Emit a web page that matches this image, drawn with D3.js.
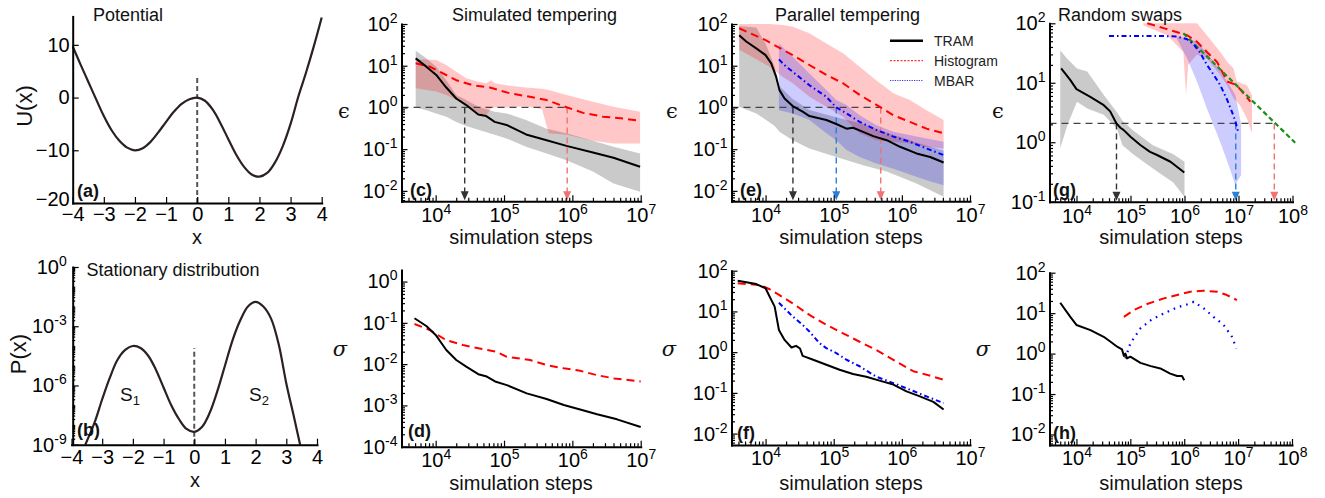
<!DOCTYPE html>
<html><head><meta charset="utf-8">
<script src="https://cdn.jsdelivr.net/npm/d3@7"></script>
<style>body{margin:0;background:#fff}svg{display:block}</style>
</head><body>
<script>
// ---------------- DATA ----------------
// (a) potential
const potX = [-4,-3.75,-3.5,-3.25,-3,-2.75,-2.5,-2.25,-2,-1.75,-1.5,-1.25,-1,-0.75,-0.5,-0.25,0,0.25,0.5,0.75,1,1.25,1.5,1.75,2,2.25,2.5,2.75,3,3.25,3.5,3.75,4];
const potU = [9.7,6.3,3.0,-0.3,-3.5,-6.2,-8.2,-9.5,-10,-9.6,-8.4,-6.6,-4.6,-2.7,-1.2,-0.3,0,-0.6,-2.3,-4.9,-7.9,-10.8,-13.1,-14.6,-15,-14.3,-12.3,-9.2,-5.0,0.2,4.8,9.8,15.2];
const potBarrierTop = 3.7;
// (b) stationary distribution
const statX = [-3.55,-3.25,-3,-2.75,-2.5,-2.25,-2,-1.75,-1.5,-1.25,-1,-0.75,-0.5,-0.25,0,0.25,0.5,0.75,1,1.25,1.5,1.75,2,2.25,2.5,2.75,3,3.25,3.45];
const statP = [1.0e-9,1.3e-8,2.0e-7,2.5e-6,2.0e-5,6.3e-5,1.0e-4,7.9e-5,3.2e-5,6.3e-6,7.9e-7,1.0e-7,2.0e-8,6.3e-9,4.5e-9,7.9e-9,4.0e-8,5.0e-7,1.0e-5,2.0e-4,2.0e-3,1.0e-2,1.7e-2,1.0e-2,2.5e-3,1.26e-4,1.26e-6,2.5e-8,1.0e-9];
const statBarrierTop = 8e-5;

// (c) simulated tempering, error
const stTramSteps = [5.1e3,7.3e3,1.02e4,1.43e4,2.0e4,2.8e4,4.2e4,5.5e4,7.3e4,1.09e5,2.1e5,4.2e5,8.2e5,2.0e6,4.0e6,9.8e6];
const stTram = [15,9.5,6.0,3.0,1.64,1.14,0.68,0.62,0.45,0.38,0.225,0.164,0.12,0.083,0.062,0.038];
const stTramBandSteps = [5.1e3,7.3e3,1.02e4,1.43e4,2.0e4,2.8e4,4.2e4,7.3e4,1.09e5,2.1e5,4.2e5,8.2e5,2.0e6,4.0e6,9.8e6];
const stTramLo = [1.0,0.86,0.72,0.6,0.45,0.36,0.29,0.22,0.18,0.114,0.079,0.054,0.029,0.015,0.0095];
const stTramHi = [23,15,9.5,4.5,2.0,1.5,1.04,0.79,0.72,0.5,0.31,0.24,0.16,0.114,0.079];
const stHistSteps = [5.1e3,8.2e3,1.15e4,2.0e4,3.5e4,6.2e4,1.2e5,2.4e5,4.2e5,8.4e5,1.44e6,2.8e6,5.6e6,9.8e6];
const stHist = [11.4,9.5,7.2,4.5,3.4,3.0,2.2,1.8,1.5,1.0,0.74,0.6,0.54,0.48];
const stHistBandSteps = [5.1e3,7.3e3,1.02e4,1.43e4,2.0e4,2.8e4,4.2e4,5.5e4,6.5e4,7.3e4,1.09e5,2.1e5,3.6e5,4.5e5,8.2e5,2.0e6,4.0e6,9.8e6];
const stHistLo = [2.9,2.6,2.4,2.0,1.5,1.14,0.72,0.66,0.95,1.0,1.0,1.07,0.9,0.24,0.22,0.16,0.137,0.137];
const stHistHi = [14.2,14,13.7,10.4,7.2,5.0,4.1,3.8,4.5,3.8,3.4,3.0,2.8,2.6,2.0,1.37,1.04,0.79];
const stThreshold = 1.0;
const stArrowSteps = [2.66e4, 8.4e5]; // TRAM, Histogram

// (d) simulated tempering, sigma
const stSigTramSteps = [4.9e3,7.3e3,1.0e4,1.43e4,2.0e4,2.8e4,4.2e4,5.6e4,7.4e4,1.1e5,2.15e5,4.2e5,7.5e5,1.3e6,2.3e6,4.5e6,1.0e7];
const stSigTram = [0.129,0.084,0.051,0.022,0.0126,0.0087,0.0057,0.005,0.0038,0.0031,0.00196,0.00143,0.00102,0.0008,0.00061,0.00046,0.0003];
const stSigHistSteps = [4.9e3,8.2e3,1.43e4,2.5e4,4.4e4,7.8e4,1.1e5,2.4e5,4.2e5,7.5e5,1.3e6,2.3e6,4.1e6,1.0e7];
const stSigHist = [0.094,0.067,0.038,0.029,0.024,0.02,0.015,0.0126,0.0095,0.0079,0.0069,0.0054,0.0045,0.0038];

// (e) parallel tempering, error
const ptTramSteps = [4.1e3,5.2e3,7.3e3,1.0e4,1.21e4,1.43e4,1.6e4,1.9e4,2.5e4,3.5e4,4.4e4,7.8e4,1.09e5,1.54e5,1.92e5,2.7e5,3.8e5,6.0e5,9.4e5,1.64e6,2.6e6,4.1e6];
const ptTram = [54,38,26,18,11.4,5.4,2.6,1.64,1.08,0.79,0.62,0.50,0.40,0.31,0.325,0.26,0.205,0.164,0.114,0.079,0.065,0.048];
const ptTramBandSteps = [4.1e3,7.3e3,1.02e4,1.36e4,1.6e4,2.5e4,4.4e4,1.09e5,2.7e5,6.0e5,1.64e6,4.1e6];
const ptTramHi = [90,83,32,9.5,3.2,1.6,0.87,0.58,0.4,0.25,0.145,0.091];
const ptTramLo = [1.04,0.72,0.5,0.36,0.26,0.164,0.104,0.065,0.041,0.029,0.015,0.0072];
const ptHistSteps = [4.1e3,1.0e4,2.5e4,4.4e4,7.8e4,1.37e5,2.4e5,4.9e5,7.5e5,1.31e6,2.3e6,4.1e6];
const ptHist = [79,41,18,10.4,6.0,3.8,2.0,1.0,0.65,0.45,0.31,0.24];
const ptHistBandSteps = [4.1e3,1.15e4,1.8e4,2.5e4,4.4e4,7.8e4,1.37e5,2.4e5,4.2e5,7.5e5,1.31e6,2.3e6,4.1e6];
const ptHistHi = [100,100,95,86,60,34,20,9.5,4.5,2.2,1.5,0.86,0.5];
const ptHistLo = [24,9.5,5.4,3.8,1.8,1.04,0.6,0.24,0.164,0.15,0.137,0.114,0.104];
const ptMbarSteps = [1.57e4,2.0e4,2.5e4,4.4e4,7.8e4,1.09e5,1.54e5,2.4e5,4.2e5,7.5e5,1.31e6,2.3e6,4.1e6];
const ptMbar = [14.2,9.5,7.2,3.4,1.8,1.0,0.72,0.45,0.29,0.2,0.15,0.104,0.072];
const ptMbarBandSteps = [1.57e4,2.5e4,4.4e4,7.8e4,1.09e5,1.54e5,2.4e5,4.2e5,7.5e5,2.3e6,4.1e6];
const ptMbarHi = [34,16.4,6.5,2.6,1.5,1.14,0.65,0.38,0.26,0.18,0.15];
const ptMbarLo = [0.86,0.72,0.5,0.24,0.164,0.095,0.065,0.045,0.034,0.018,0.0137];
const ptThreshold = 1.0;
const ptArrowSteps = [2.52e4, 1.09e5, 4.9e5]; // TRAM, MBAR, Histogram

// (f) parallel tempering, sigma
const ptSigTramSteps = [3.9e3,7.3e3,1.0e4,1.15e4,1.36e4,1.57e4,1.9e4,2.4e4,2.8e4,3.2e4,3.5e4,5.0e4,7.8e4,1.22e5,1.92e5,3.0e5,4.7e5,7.5e5,1.17e6,1.84e6,2.9e6,4.1e6];
const ptSigTram = [57,47,37,23,13.1,3.5,2.0,1.3,1.43,1.23,0.81,0.65,0.49,0.37,0.29,0.25,0.2,0.16,0.109,0.082,0.06,0.039];
const ptSigHistSteps = [3.9e3,8.2e3,1.15e4,1.6e4,2.5e4,4.4e4,7.8e4,1.37e5,2.4e5,4.2e5,7.5e5,1.47e6,2.3e6,4.1e6];
const ptSigHist = [49,44.6,35,25,15.8,8.2,4.7,2.9,1.8,1.14,0.65,0.34,0.28,0.21];
const ptSigMbarSteps = [1.57e4,2.0e4,2.5e4,3.5e4,4.4e4,6.2e4,7.8e4,1.09e5,1.54e5,2.4e5,4.2e5,7.5e5,1.31e6,2.3e6,4.1e6];
const ptSigMbar = [16.4,10.9,7.5,4.7,3.2,1.66,1.25,0.95,0.65,0.45,0.25,0.174,0.12,0.082,0.056];

// (g) random swaps, error
const rsTramSteps = [5.2e3,7.7e3,1.0e4,1.8e4,3.2e4,4.2e4,5.5e4,6.5e4,7.5e4,1.0e5,1.52e5,2.3e5,3.1e5,5.5e5,9.9e5];
const rsTram = [17.5,11.1,7.8,5.8,4.2,3.3,2.07,1.75,1.6,1.24,0.9,0.69,0.61,0.47,0.31];
const rsTramBandSteps = [5.0e3,6.8e3,1.02e4,1.58e4,3.2e4,5.6e4,7.1e4,1.12e5,2.6e5,6.2e5,1.0e6];
const rsTramHi = [35,25,17.4,15.5,6.2,3.2,2.3,1.58,0.89,0.63,0.47];
const rsTramLo = [0.79,1.95,4.8,3.7,2.9,1.7,0.89,0.63,0.36,0.21,0.12];
const rsHistSteps = [2.04e5,4.1e5,1.12e6,1.7e6,2.6e6,4.0e6,6.2e6,9.3e6,1.66e7];
const rsHist = [100,83,63,49,33,22.4,10.5,9.1,4.8];
const rsHistBandSteps = [1.74e5,2.04e5,4.8e5,9.5e5,1.07e6,1.17e6,1.7e6,2.6e6,4.6e6,6.2e6,8.1e6,9.3e6,1.07e7,1.43e7,1.78e7];
const rsHistHi = [100,100,100,100,100,100,100,63,33,22.4,17.4,10.5,10,9.1,6.2];
const rsHistLo = [93,87,63,33,6.2,20,29.5,25.7,13.5,8.9,5.5,4.8,4.2,2.5,1.41];
const rsMbarSteps = [4.0e4,1.5e5,4.1e5,7.2e5,1.12e6,1.48e6,1.95e6,2.6e6,3.5e6,4.6e6,6.2e6,7.6e6,8.7e6,1.0e7];
const rsMbar = [61,61,61,60,54,44,32,20,13.5,9.1,5.1,3.2,2.3,1.41];
const rsMbarBandSteps = [7.2e5,1.12e6,1.7e6,2.6e6,4.6e6,6.9e6,8.7e6,1.12e7];
const rsMbarHi = [60,56,49,32,15.8,8.9,6.3,2.0];
const rsMbarLo = [55,25.7,10.5,3.7,1.0,0.36,0.19,0.28];
const rsGuideSteps = [9.5e5,1.12e8];
const rsGuide = [68,0.98];
const rsThreshold = 2.07;
const rsArrowSteps = [5.5e4, 8.9e6, 4.6e7]; // TRAM, MBAR, Histogram

// (h) random swaps, sigma
const rsSigTramSteps = [5.0e3,7.7e3,1.0e4,1.82e4,3.2e4,4.3e4,5.7e4,7.0e4,7.6e4,8.1e4,8.7e4,1.0e5,1.54e5,2.4e5,3.6e5,5.5e5,7.4e5,9.1e5,1.0e6];
const rsSigTram = [18.1,8.1,5.1,3.8,2.6,1.96,1.48,1.27,0.87,1.0,0.76,0.84,0.59,0.49,0.43,0.32,0.28,0.28,0.22];
const rsSigHistSteps = [7.6e4,1.16e5,2.05e5,4.2e5,7.4e5,1.3e6,2.3e6,4.1e6,6.2e6,9.5e6];
const rsSigHist = [8.1,11.9,16.8,23.2,28,33.9,35.9,33.9,28,21];
const rsSigMbarSteps = [8.1e4,1.0e5,1.54e5,2.4e5,4.2e5,7.4e5,1.3e6,1.5e6,2.3e6,3.5e6,5.4e6,7.7e6,9.3e6];
const rsSigMbar = [0.76,1.79,4.2,6.7,9.9,13.9,17.4,19.1,13.1,8.1,5.1,2.6,1.34];

const legendLabels = ["TRAM","Histogram","MBAR"];

// ---------------- DRAWING ----------------
const W = 1325, H = 498;
const FONT = "'Liberation Sans', Arial, Helvetica, sans-serif";
const svg = d3.select('body').append('svg').attr('width', W).attr('height', H)
  .style('font-family', FONT);
const defs = svg.append('defs');
let clipN = 0;
function makeClip(l, t, w, h) {
  const id = 'clip' + (clipN++);
  defs.append('clipPath').attr('id', id).append('rect').attr('x', l).attr('y', t).attr('width', w).attr('height', h);
  return 'url(#' + id + ')';
}
const RED = '#ff0000', BLUE = '#0000ff', BLACK = '#000';
const STY = {
  tram: {color: BLACK, dash: null, w: 2},
  hist: {color: RED, dash: '8,5', w: 2},
  mbar: {color: BLUE, dash: '5,3,1.5,3', w: 2},
  mbarDot: {color: BLUE, dash: '1.6,5', w: 2.2},
  guide: {color: '#1a8f1a', dash: '5,3', w: 2.2}
};
const ARROW = {tram: '#333', mbar: '#2a7fd4', hist: '#f07272'};

function supText(t, base, exp, size, rise) {
  t.text(null);
  t.append('tspan').text(base);
  t.append('tspan').attr('font-size', size).attr('dy', -rise).text(exp);
}
function logMinor(dom, majors) {
  const out = [];
  const a = Math.floor(Math.log10(dom[0])), b = Math.ceil(Math.log10(dom[1]));
  for (let e = a; e <= b; e++) for (let k = 1; k <= 9; k++) {
    const v = k * Math.pow(10, e);
    if (v >= dom[0] * 0.999 && v <= dom[1] * 1.001 && !majors.some(m => Math.abs(m - v) / m < 1e-6)) out.push(v);
  }
  return out;
}
function styleAxis(sel) {
  sel.selectAll('.tick line').attr('stroke', '#000').attr('stroke-width', 1.2);
  sel.select('.domain').attr('stroke', '#000').attr('stroke-width', 2).attr('stroke-linecap', 'square');
  sel.selectAll('.tick text').attr('fill', '#000');
  sel.attr('font-size', 20).attr('font-family', FONT);
}
function zip(steps, vals) { return steps.map((s, i) => ({s, v: vals[i]})); }
function zipBand(steps, lo, hi) { return steps.map((s, i) => ({s, lo: lo[i], hi: hi[i]})); }

function text(x, y, str, opts = {}) {
  const t = svg.append('text').attr('x', x).attr('y', y).text(str)
    .attr('font-size', opts.size || 18).attr('fill', opts.fill || '#111');
  if (opts.anchor) t.attr('text-anchor', opts.anchor);
  if (opts.weight) t.attr('font-weight', opts.weight);
  if (opts.family) t.attr('font-family', opts.family);
  if (opts.italic) t.attr('font-style', 'italic');
  if (opts.rotate) t.attr('transform', `rotate(-90,${x},${y})`);
  return t;
}

function logPanel(c) {
  const g = svg.append('g');
  const x = d3.scaleLog().domain(c.xDom).range([c.left, c.right]);
  const y = d3.scaleLog().domain(c.yDom).range([c.bottom, c.top]);
  const plot = g.append('g').attr('clip-path', makeClip(c.left, c.top - 2, c.right - c.left + 6, c.bottom - c.top + 2));
  (c.bands || []).forEach(b => {
    plot.append('path').datum(zipBand(b.steps, b.lo, b.hi))
      .attr('d', d3.area().x(d => x(d.s)).y0(d => y(d.lo)).y1(d => y(d.hi)))
      .attr('fill', b.color).attr('fill-opacity', b.op);
  });
  if (c.thr) {
    const xs = c.arrows.map(a => a.s);
    plot.append('line').attr('x1', c.left).attr('x2', x(d3.max(xs))).attr('y1', y(c.thr)).attr('y2', y(c.thr))
      .attr('stroke', '#444').attr('stroke-width', 1.3).attr('stroke-dasharray', '7,5');
    c.arrows.forEach(a => {
      const px = x(a.s), py0 = y(c.thr), py1 = c.bottom;
      plot.append('line').attr('x1', px).attr('x2', px).attr('y1', py0).attr('y2', py1 - 8)
        .attr('stroke', a.color).attr('stroke-width', 1.4).attr('stroke-dasharray', '6,4');
      plot.append('path').attr('d', `M${px - 4},${py1 - 10}L${px + 4},${py1 - 10}L${px},${py1 - 1}Z`).attr('fill', a.color);
    });
  }
  (c.lines || []).forEach(l => {
    const st = STY[l.style];
    plot.append('path').datum(zip(l.steps, l.vals))
      .attr('d', d3.line().x(d => x(d.s)).y(d => y(d.v)))
      .attr('fill', 'none').attr('stroke', st.color).attr('stroke-width', st.w)
      .attr('stroke-dasharray', st.dash).attr('stroke-linejoin', 'round');
  });
  // axes
  g.append('g').attr('transform', `translate(0,${c.bottom})`)
    .call(d3.axisBottom(x).tickValues(logMinor(c.xDom, c.xMajor)).tickSize(-3.5).tickFormat(''))
    .call(s => s.select('.domain').remove()).call(styleAxis);
  const xa = g.append('g').attr('transform', `translate(0,${c.bottom})`)
    .call(d3.axisBottom(x).tickValues(c.xMajor).tickSize(-6).tickSizeOuter(0).tickPadding(c.xPad))
    .call(styleAxis);
  xa.selectAll('.tick text').each(function (d) { supText(d3.select(this), '10', String(Math.round(Math.log10(d))), 14, 8); });
  g.append('g').attr('transform', `translate(${c.left},0)`)
    .call(d3.axisLeft(y).tickValues(logMinor(c.yDom, c.yMajor)).tickSize(-3.5).tickFormat(''))
    .call(s => s.select('.domain').remove()).call(styleAxis);
  const ya = g.append('g').attr('transform', `translate(${c.left},0)`)
    .call(d3.axisLeft(y).tickValues(c.yMajor).tickSize(-6).tickSizeOuter(0).tickPadding(4))
    .call(styleAxis);
  ya.selectAll('.tick text').each(function (d) { supText(d3.select(this), '10', String(Math.round(Math.log10(d))), 14, 8); });
  return {x, y};
}

// ---- (a) Potential ----
{
  const x = d3.scaleLinear().domain([-4, 4]).range([72.7, 321.7]);
  const y = d3.scaleLinear().domain([-20, 15.4]).range([203, 16.4]);
  const g = svg.append('g');
  const plot = g.append('g').attr('clip-path', makeClip(72, 10, 252, 194));
  plot.append('line').attr('x1', x(0)).attr('x2', x(0)).attr('y1', y(-20)).attr('y2', y(potBarrierTop))
    .attr('stroke', '#555').attr('stroke-width', 2).attr('stroke-dasharray', '5,3');
  plot.append('path').datum(potX.map((v, i) => [v, potU[i]]))
    .attr('d', d3.line().x(d => x(d[0])).y(d => y(d[1])).curve(d3.curveCatmullRom))
    .attr('fill', 'none').attr('stroke', '#2b2024').attr('stroke-width', 2.2);
  g.append('g').attr('transform', 'translate(0,203)')
    .call(d3.axisBottom(x).tickValues(d3.range(-4, 5)).tickSize(-6).tickSizeOuter(0).tickPadding(4)).call(styleAxis);
  const ya = g.append('g').attr('transform', 'translate(72.7,0)')
    .call(d3.axisLeft(y).tickValues([-20, -10, 0, 10]).tickSize(-6).tickSizeOuter(0).tickPadding(3)).call(styleAxis);
  ya.selectAll('.tick text').filter(d => d === -20).attr('dy', '0.1em');
  text(93, 21, 'Potential', {size: 18});
  text(77, 197, '(a)', {size: 18, weight: 'bold'});
  text(197, 244, 'x', {size: 20, anchor: 'middle'});
  text(32, 106, 'U(x)', {size: 22, anchor: 'middle', rotate: true});
}

// ---- (b) Stationary distribution ----
{
  const x = d3.scaleLinear().domain([-4, 4]).range([71.5, 317]);
  const y = d3.scaleLog().domain([1e-9, 1]).range([444.7, 267]);
  const g = svg.append('g');
  const plot = g.append('g').attr('clip-path', makeClip(71, 262, 250, 183));
  plot.append('line').attr('x1', x(0)).attr('x2', x(0)).attr('y1', y(1e-9)).attr('y2', y(statBarrierTop))
    .attr('stroke', '#555').attr('stroke-width', 2).attr('stroke-dasharray', '5,3');
  plot.append('path').datum(statX.map((v, i) => [v, statP[i]]))
    .attr('d', d3.line().x(d => x(d[0])).y(d => y(d[1])).curve(d3.curveCatmullRom))
    .attr('fill', 'none').attr('stroke', '#2b2024').attr('stroke-width', 2.2);
  g.append('g').attr('transform', 'translate(0,444.7)')
    .call(d3.axisBottom(x).tickValues(d3.range(-4, 5)).tickSize(-6).tickSizeOuter(0).tickPadding(5)).call(styleAxis);
  const yMaj = [1e-9, 1e-6, 1e-3, 1];
  g.append('g').attr('transform', 'translate(72.7,0)')
    .call(d3.axisLeft(y).tickValues(logMinor([1e-9, 1], yMaj)).tickSize(-2.5).tickFormat(''))
    .call(s => s.select('.domain').remove()).call(styleAxis);
  const ya = g.append('g').attr('transform', 'translate(72.7,0)')
    .call(d3.axisLeft(y).tickValues(yMaj).tickSize(-6).tickSizeOuter(0).tickPadding(6)).call(styleAxis);
  ya.selectAll('.tick text').each(function (d) { supText(d3.select(this), '10', String(Math.round(Math.log10(d))), 14, 8); });
  text(86.5, 276, 'Stationary distribution', {size: 18});
  text(77, 436, '(b)', {size: 18, weight: 'bold'});
  text(195, 487, 'x', {size: 20, anchor: 'middle'});
  text(26, 354, 'P(x)', {size: 22, anchor: 'middle', rotate: true});
  const s1 = text(120, 401, 'S', {size: 19});
  s1.append('tspan').attr('font-size', 13).attr('dy', 4).text('1');
  const s2 = text(249, 401, 'S', {size: 19});
  s2.append('tspan').attr('font-size', 13).attr('dy', 4).text('2');
}

const GRAY = {color: '#808080', op: 0.42};
const PINK = {color: '#ff0000', op: 0.22};
const LAV = {color: '#0000ff', op: 0.2};
const topRow = {top: 24, bottom: 201.3, xPad: 7};

// ---- (c) ----
logPanel(Object.assign({}, topRow, {
  left: 401.5, right: 640.7, xDom: [Math.pow(10, 3.5), 1e7], yDom: [Math.pow(10, -2.25), 100],
  xMajor: [1e4, 1e5, 1e6, 1e7], yMajor: [1e-2, 1e-1, 1, 10, 100],
  bands: [Object.assign({steps: stTramBandSteps, lo: stTramLo, hi: stTramHi}, GRAY),
          Object.assign({steps: stHistBandSteps, lo: stHistLo, hi: stHistHi}, PINK)],
  thr: stThreshold,
  arrows: [{s: stArrowSteps[0], color: ARROW.tram}, {s: stArrowSteps[1], color: ARROW.hist}],
  lines: [{steps: stHistSteps, vals: stHist, style: 'hist'}, {steps: stTramSteps, vals: stTram, style: 'tram'}]
}));
// ---- (d) ----
logPanel({
  top: 270, bottom: 446.7, xPad: 6,
  left: 401.5, right: 640.7, xDom: [Math.pow(10, 3.5), 1e7], yDom: [1e-4, Math.pow(10, 0.28)],
  xMajor: [1e4, 1e5, 1e6, 1e7], yMajor: [1e-4, 1e-3, 1e-2, 1e-1, 1],
  lines: [{steps: stSigHistSteps, vals: stSigHist, style: 'hist'}, {steps: stSigTramSteps, vals: stSigTram, style: 'tram'}]
});
// ---- (e) ----
logPanel(Object.assign({}, topRow, {
  left: 731.5, right: 970, xDom: [Math.pow(10, 3.5), 1e7], yDom: [Math.pow(10, -2.25), 100],
  xMajor: [1e4, 1e5, 1e6, 1e7], yMajor: [1e-2, 1e-1, 1, 10, 100],
  bands: [Object.assign({steps: ptTramBandSteps, lo: ptTramLo, hi: ptTramHi}, GRAY),
          Object.assign({steps: ptHistBandSteps, lo: ptHistLo, hi: ptHistHi}, PINK),
          Object.assign({steps: ptMbarBandSteps, lo: ptMbarLo, hi: ptMbarHi}, LAV)],
  thr: ptThreshold,
  arrows: [{s: ptArrowSteps[0], color: ARROW.tram}, {s: ptArrowSteps[1], color: ARROW.mbar}, {s: ptArrowSteps[2], color: ARROW.hist}],
  lines: [{steps: ptHistSteps, vals: ptHist, style: 'hist'}, {steps: ptMbarSteps, vals: ptMbar, style: 'mbar'},
          {steps: ptTramSteps, vals: ptTram, style: 'tram'}]
}));
// ---- (f) ----
logPanel({
  top: 270.7, bottom: 445, xPad: 6,
  left: 731.5, right: 970, xDom: [Math.pow(10, 3.5), 1e7], yDom: [Math.pow(10, -2.28), 100],
  xMajor: [1e4, 1e5, 1e6, 1e7], yMajor: [1e-2, 1e-1, 1, 10, 100],
  lines: [{steps: ptSigHistSteps, vals: ptSigHist, style: 'hist'}, {steps: ptSigMbarSteps, vals: ptSigMbar, style: 'mbar'},
          {steps: ptSigTramSteps, vals: ptSigTram, style: 'tram'}]
});
// ---- (g) ----
logPanel({
  top: 23.3, bottom: 201.7, xPad: 7,
  left: 1049.5, right: 1292.5, xDom: [Math.pow(10, 3.5), 1e8], yDom: [0.1, 100],
  xMajor: [1e4, 1e5, 1e6, 1e7, 1e8], yMajor: [0.1, 1, 10, 100],
  bands: [Object.assign({steps: rsTramBandSteps, lo: rsTramLo, hi: rsTramHi}, GRAY),
          Object.assign({steps: rsHistBandSteps, lo: rsHistLo, hi: rsHistHi}, PINK),
          Object.assign({steps: rsMbarBandSteps, lo: rsMbarLo, hi: rsMbarHi}, LAV)],
  thr: rsThreshold,
  arrows: [{s: rsArrowSteps[0], color: ARROW.tram}, {s: rsArrowSteps[1], color: ARROW.mbar}, {s: rsArrowSteps[2], color: ARROW.hist}],
  lines: [{steps: rsHistSteps, vals: rsHist, style: 'hist'}, {steps: rsGuideSteps, vals: rsGuide, style: 'guide'},
          {steps: rsMbarSteps, vals: rsMbar, style: 'mbar'}, {steps: rsTramSteps, vals: rsTram, style: 'tram'}]
});
// ---- (h) ----
logPanel({
  top: 272.7, bottom: 445, xPad: 6,
  left: 1049.5, right: 1292, xDom: [Math.pow(10, 3.5), 1e8], yDom: [Math.pow(10, -2.26), 100],
  xMajor: [1e4, 1e5, 1e6, 1e7, 1e8], yMajor: [1e-2, 1e-1, 1, 10, 100],
  lines: [{steps: rsSigHistSteps, vals: rsSigHist, style: 'hist'}, {steps: rsSigMbarSteps, vals: rsSigMbar, style: 'mbarDot'},
          {steps: rsSigTramSteps, vals: rsSigTram, style: 'tram'}]
});

// titles, panel labels, axis labels
text(452, 21, 'Simulated tempering', {size: 18});
text(775, 21, 'Parallel tempering', {size: 18});
text(1058, 21, 'Random swaps', {size: 18});
[['(c)', 410, 196], ['(d)', 408, 437], ['(e)', 740, 196], ['(f)', 737, 439], ['(g)', 1053, 196], ['(h)', 1053, 439]]
  .forEach(p => text(p[1], p[2], p[0], {size: 18, weight: 'bold'}));
[[521, 244], [521, 490], [851, 244], [851, 490], [1171, 244], [1171, 490]]
  .forEach(p => text(p[0], p[1], 'simulation steps', {size: 20, anchor: 'middle'}));
[[344, 118], [672, 118], [998, 118]].forEach(p => text(p[0], p[1], 'ϵ', {size: 21, anchor: 'middle', family: "'DejaVu Serif', serif"}));
[[340, 356], [669, 356], [983, 356]].forEach(p => text(p[0], p[1], 'σ', {size: 21, anchor: 'middle', family: "'DejaVu Serif', serif", italic: true}));

// legend in (e)
{
  const rows = [STY.tram, STY.hist, STY.mbar];
  const lg = svg.append('g');
  const ly = d3.scalePoint().domain(legendLabels).range([40.7, 80.5]);
  legendLabels.forEach((lab, i) => {
    const st = rows[i];
    lg.append('line').attr('x1', 890).attr('x2', 923).attr('y1', ly(lab)).attr('y2', ly(lab))
      .attr('stroke', st.color).attr('stroke-width', i === 0 ? 2.4 : 1.1)
      .attr('stroke-dasharray', i === 0 ? null : (i === 1 ? '2,1.5' : '1.2,1.2'))
      .attr('stroke-opacity', i === 0 ? 1 : 0.8);
    lg.append('text').attr('x', 934).attr('y', ly(lab) + 5).attr('font-size', 14).attr('fill', '#222').text(lab);
  });
}
</script>
</body></html>
